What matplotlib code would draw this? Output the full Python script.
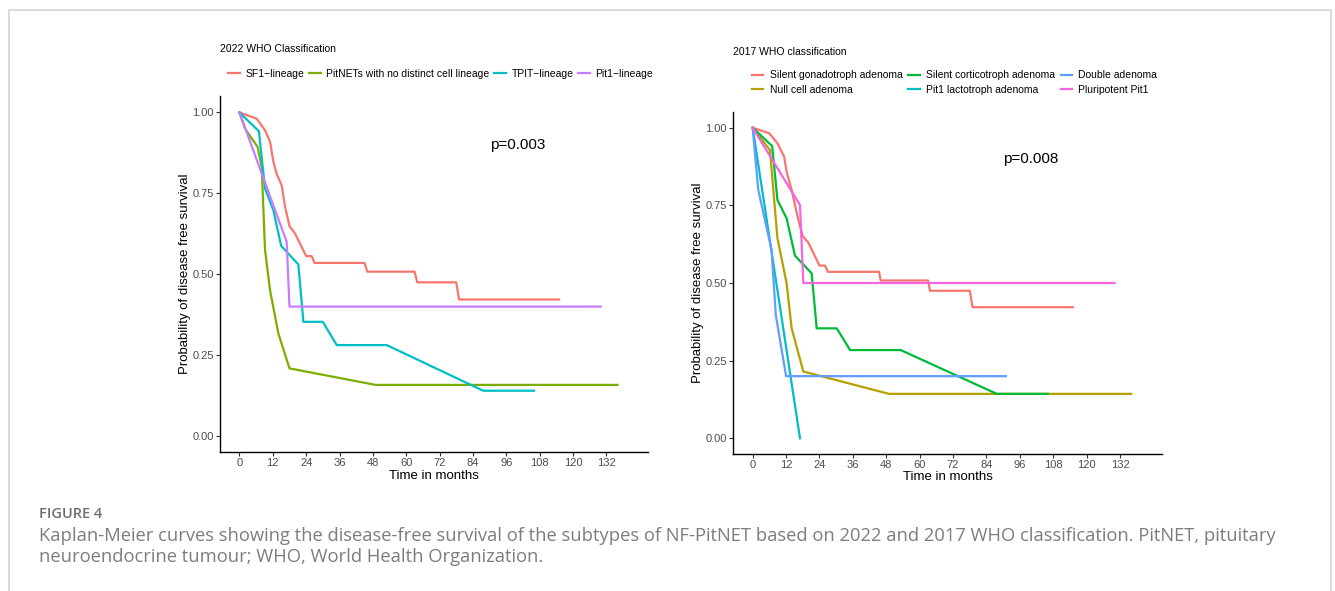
import matplotlib.pyplot as plt
from matplotlib.patches import Rectangle
from matplotlib.lines import Line2D

plt.rcParams['font.family'] = ['Liberation Sans', 'DejaVu Sans']

# ---- 2022 WHO classification (time in months, survival) ----
sf1_t = [0, 6.2, 9.2, 11, 12.2, 13.4, 15.2, 16.4, 18, 20, 24, 26, 27, 45, 46, 63, 64, 78, 79, 115]
sf1_s = [1.0, 0.981, 0.945, 0.91, 0.848, 0.81, 0.775, 0.709, 0.649, 0.626, 0.556, 0.556, 0.535,
         0.535, 0.508, 0.508, 0.475, 0.475, 0.422, 0.422]
nodist_t = [0, 2, 6.5, 8, 9.2, 11, 14, 18, 49, 136]
nodist_s = [1.0, 0.95, 0.894, 0.832, 0.575, 0.451, 0.317, 0.209, 0.158, 0.158]
tpit_t = [0, 7, 9.2, 12.2, 15, 21.2, 23, 30, 35, 53, 87.7, 106]
tpit_s = [1.0, 0.942, 0.765, 0.698, 0.588, 0.530, 0.353, 0.353, 0.281, 0.281, 0.14, 0.14]
pit1_t = [0, 17, 18, 130]
pit1_s = [1.0, 0.6, 0.4, 0.4]

# ---- 2017 WHO classification ----
gonado_t = [0, 6, 8.9, 11.3, 12.2, 14, 15.2, 16.4, 18, 20, 24, 26, 27, 45.4, 46, 63, 63.7, 78, 79, 115]
gonado_s = [1.0, 0.982, 0.95, 0.907, 0.858, 0.8, 0.751, 0.703, 0.651, 0.63, 0.556, 0.556, 0.536,
            0.536, 0.508, 0.508, 0.475, 0.475, 0.422, 0.422]
null_t = [0, 6.2, 8.9, 12.2, 14, 18.2, 49, 136]
null_s = [1.0, 0.928, 0.644, 0.499, 0.354, 0.215, 0.143, 0.143]
cortico_t = [0, 7, 8.9, 12.2, 15.2, 21.2, 23, 30.2, 35, 53.2, 87.7, 106]
cortico_s = [1.0, 0.941, 0.767, 0.708, 0.588, 0.531, 0.354, 0.354, 0.284, 0.284, 0.143, 0.143]
lacto_t = [0, 17]
lacto_s = [1.0, 0.0]
double_t = [0, 2, 6.8, 8.3, 12, 91]
double_s = [1.0, 0.8, 0.606, 0.397, 0.2, 0.2]
pluri_t = [0, 17, 18.2, 130]
pluri_s = [1.0, 0.751, 0.5, 0.5]

left_labels = ['SF1\u2212lineage', 'PitNETs with no distinct cell lineage', 'TPIT\u2212lineage', 'Pit1\u2212lineage']
left_colors = ['#F8766D', '#7CAE00', '#00BFC4', '#C77CFF']
left_curves = [(sf1_t, sf1_s), (nodist_t, nodist_s), (tpit_t, tpit_s), (pit1_t, pit1_s)]

right_labels = ['Silent gonadotroph adenoma', 'Null cell adenoma', 'Silent corticotroph adenoma',
                'Pit1 lactotroph adenoma', 'Double adenoma', 'Pluripotent Pit1']
right_colors = ['#F8766D', '#B79F00', '#00BA38', '#00BFC4', '#619CFF', '#F564E3']
right_curves = [(gonado_t, gonado_s), (null_t, null_s), (cortico_t, cortico_s),
                (lacto_t, lacto_s), (double_t, double_s), (pluri_t, pluri_s)]

xticks = [0, 12, 24, 36, 48, 60, 72, 84, 96, 108, 120, 132]
yticks = [0.0, 0.25, 0.5, 0.75, 1.0]
ytick_labels = ['0.00', '0.25', '0.50', '0.75', '1.00']

W, H = 1335, 591
fig = plt.figure(figsize=(W / 100, H / 100), dpi=100)

# grey frame around the figure panel
fig.patches.append(Rectangle((9 / W, -0.05), (1331 - 9) / W, (H - 10.5) / H + 0.05,
                             transform=fig.transFigure, fill=False, edgecolor='#d4d4d4', lw=1.2))


def km_panel(rect, curves, colors, ptext):
    ax = fig.add_axes(rect)
    for (t, s), c in zip(curves, colors):
        ax.plot(t, s, color=c, lw=1.6, solid_joinstyle='round')
    ax.set_xlim(-7, 147)
    ax.set_ylim(-0.05, 1.05)
    ax.set_xticks(xticks)
    ax.set_yticks(yticks)
    ax.set_yticklabels(ytick_labels)
    for side in ['top', 'right']:
        ax.spines[side].set_visible(False)
    for side in ['left', 'bottom']:
        ax.spines[side].set_linewidth(1.0)
    ax.tick_params(labelsize=8, colors='#333333', labelcolor='#4D4D4D', length=3, width=0.8, pad=1.5)
    ax.set_xlabel('Time in months', fontsize=9.5, labelpad=1)
    ax.set_ylabel('Probability of disease free survival', fontsize=9.5, labelpad=1)
    ax.text(100, 0.9, ptext, fontsize=11, ha='center', va='center')
    return ax


ax1 = km_panel([220 / W, 1 - 452.2 / H, 428 / W, 355.9 / H], left_curves, left_colors, 'p=0.003')
ax2 = km_panel([733.2 / W, 1 - 453.8 / H, 428.6 / W, 341.6 / H], right_curves, right_colors, 'p=0.008')

fig.text(220 / W, 1 - 49 / H, '2022 WHO Classification', fontsize=7.5, va='center')
fig.text(733 / W, 1 - 52 / H, '2017 WHO classification', fontsize=7.5, va='center')

h1 = [Line2D([], [], color=c, lw=1.6) for c in left_colors]
fig.legend(h1, left_labels, loc='center left', bbox_to_anchor=(228 / W, 1 - 74 / H), ncol=4,
           frameon=False, fontsize=7.5, handlelength=1.15, handletextpad=0.55, columnspacing=0.4,
           borderaxespad=0, borderpad=0)

h2 = [Line2D([], [], color=c, lw=1.6) for c in right_colors]
fig.legend(h2, right_labels, loc='center left', bbox_to_anchor=(752 / W, 1 - 82.5 / H), ncol=3,
           frameon=False, fontsize=7.5, handlelength=1.1, handletextpad=0.6, columnspacing=0.55,
           labelspacing=0.45, borderaxespad=0, borderpad=0)

cap_font = ['Open Sans', 'DejaVu Sans']
fig.text(39 / W, 1 - 514 / H, 'FIGURE 4', fontsize=10.5, color='#6f6f6f', fontweight='semibold',
         family=cap_font, va='center')
fig.text(39 / W, 1 - 536 / H,
         'Kaplan-Meier curves showing the disease-free survival of the subtypes of NF-PitNET based on '
         '2022 and 2017 WHO classification. PitNET, pituitary',
         fontsize=13.2, color='#7d7d7d', family=cap_font, va='center')
fig.text(39 / W, 1 - 557 / H, 'neuroendocrine tumour; WHO, World Health Organization.',
         fontsize=13.2, color='#7d7d7d', family=cap_font, va='center')

fig.savefig('out.png', dpi=100)
